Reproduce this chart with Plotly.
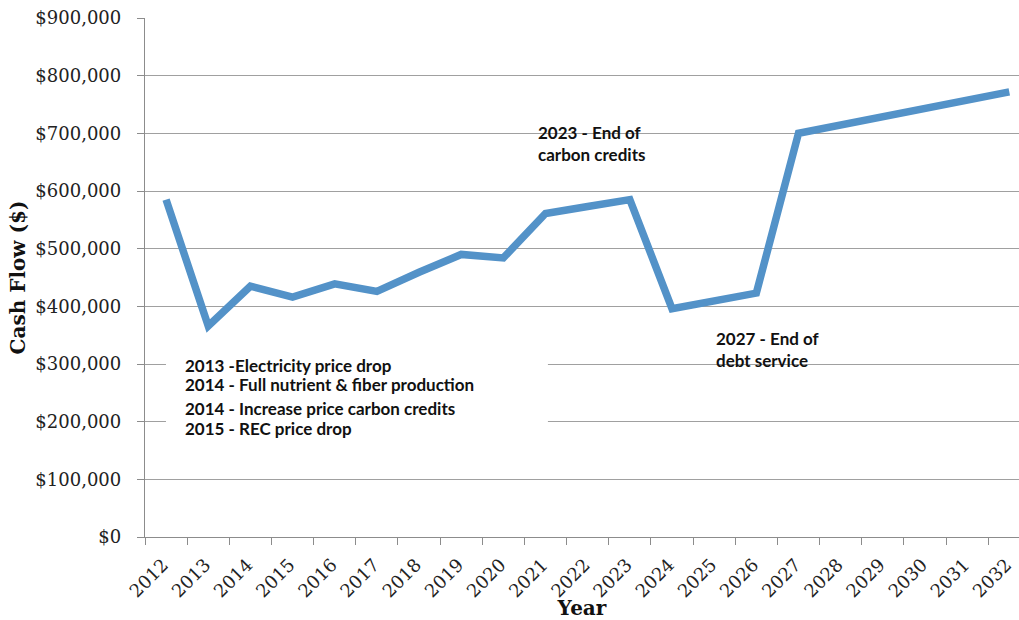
import plotly.graph_objects as go

# Annual cash flow projection
years = [str(y) for y in range(2012, 2033)]
cash_flow = [585000, 366000, 435000, 416000, 439000, 426000, 459000, 490000,
             484000, 561000, 573000, 585000, 396000, 411000, 423000, 700000,
             714000, 728000, 743000, 757000, 772000]

early_notes = [
    "2013 -Electricity price drop",
    "2014 - Full nutrient & fiber production",
    "2014 - Increase price carbon credits",
    "2015 - REC price drop",
]
carbon_note = "2023 - End of<br>carbon credits"
debt_note = "2027 - End of<br>debt service"

SERIF = "DejaVu Serif"
SANS = "Lato"
GRID = "#a0a0a0"
AXIS = "#8c8c8c"
NOTE_FONT = dict(family=SANS, size=17, color="#111111", weight="bold")

fig = go.Figure()
fig.add_trace(go.Scatter(
    x=years, y=cash_flow, mode="lines",
    line=dict(color="#5392c8", width=7.5),
    hoverinfo="skip", showlegend=False,
))

# white panel behind the early-year notes, covering the gridlines
fig.add_shape(type="rect", xref="paper", yref="paper",
              x0=0.024, x1=0.461, y0=0.178, y1=0.38,
              fillcolor="white", line=dict(width=0), layer="above")

note_y = [365, 384, 408, 428]  # pixel rows of the note lines
plot_top, plot_h = 18, 519
for txt, py in zip(early_notes, note_y):
    fig.add_annotation(
        text=txt, xref="paper", yref="paper",
        x=(183 - 145) / 874, y=1 - (py - plot_top) / plot_h,
        xanchor="left", yanchor="middle", showarrow=False,
        font=NOTE_FONT,
    )

fig.add_annotation(
    text=carbon_note, xref="paper", yref="paper",
    x=(536 - 145) / 874, y=1 - (143 - plot_top) / plot_h,
    xanchor="left", yanchor="middle", showarrow=False, align="left",
    font=NOTE_FONT,
)
fig.add_annotation(
    text=debt_note, xref="paper", yref="paper",
    x=(714 - 145) / 874, y=1 - (349 - plot_top) / plot_h,
    xanchor="left", yanchor="middle", showarrow=False, align="left",
    font=NOTE_FONT,
)

fig.update_layout(
    width=1019, height=620,
    margin=dict(l=145, r=0, t=18, b=83),
    paper_bgcolor="white", plot_bgcolor="white",
    xaxis=dict(
        type="category", range=[-0.5, 20.23], automargin=False,
        tickangle=-45, tickson="boundaries",
        ticks="outside", ticklen=7, tickcolor=AXIS, tickwidth=1.3,
        showline=True, linecolor=AXIS, linewidth=1.3,
        showgrid=False,
        ticklabelstandoff=9, ticklabelshift=-3,
        tickfont=dict(family=SERIF, size=18, color="#222222"),
        title=dict(text="Year", standoff=4,
                   font=dict(family=SERIF, size=20, color="#111111", weight="bold")),
    ),
    yaxis=dict(
        range=[0, 900000], dtick=100000, tickformat="$,.0f", automargin=False,
        ticks="outside", ticklen=7, tickcolor=AXIS, tickwidth=1.3,
        showline=True, linecolor=AXIS, linewidth=1.3,
        showgrid=True, gridcolor=GRID, gridwidth=1.3,
        zeroline=False,
        ticklabelstandoff=12,
        tickfont=dict(family=SERIF, size=18, color="#222222"),
        title=dict(text="Cash Flow ($)", standoff=4,
                   font=dict(family=SERIF, size=20, color="#111111", weight="bold")),
    ),
)

fig.write_html("out.html")
